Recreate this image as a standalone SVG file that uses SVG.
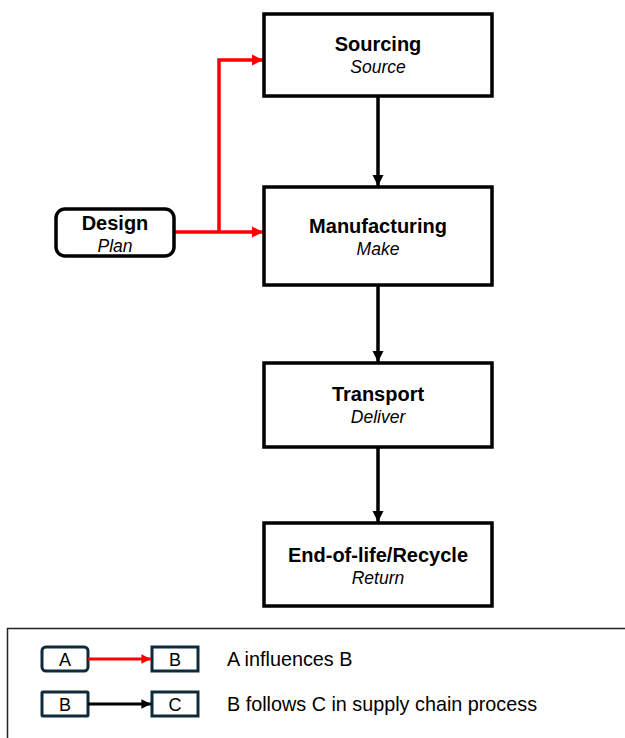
<svg xmlns="http://www.w3.org/2000/svg" width="625" height="738" viewBox="0 0 625 738">
<style>
.box{fill:#fff;stroke:#000;stroke-width:3.5}
.lg{fill:#fff;stroke:#0f2a3a;stroke-width:3}
.t{font-family:"Liberation Sans",Arial,sans-serif;font-weight:bold;font-size:20px;text-anchor:middle;fill:#000}
.s{font-family:"Liberation Sans",Arial,sans-serif;font-style:italic;font-size:17.5px;text-anchor:middle;fill:#000}
.l{font-family:"Liberation Sans",Arial,sans-serif;font-size:19.8px;fill:#000}
.lc{font-family:"Liberation Sans",Arial,sans-serif;font-size:18px;text-anchor:middle;fill:#000}
.blk{fill:none;stroke:#000;stroke-width:3.5}
.red{fill:none;stroke:#ff0000;stroke-width:3.5}
</style>
<defs>
<marker id="ab" viewBox="0 0 10 10" refX="10" refY="5" markerWidth="3.2" markerHeight="3.2" orient="auto" markerUnits="strokeWidth"><path d="M0,0 L10,5 L0,10 Z" fill="#000"/></marker>
<marker id="ar" viewBox="0 0 10 10" refX="10" refY="5" markerWidth="3.2" markerHeight="3.2" orient="auto" markerUnits="strokeWidth"><path d="M0,0 L10,5 L0,10 Z" fill="#ff0000"/></marker>
</defs>
<g id="connectors">
<path class="blk" d="M378,96 L378,186" marker-end="url(#ab)"/>
<path class="blk" d="M378,285 L378,362" marker-end="url(#ab)"/>
<path class="blk" d="M378,447 L378,522" marker-end="url(#ab)"/>
<path class="red" d="M174,232 L263,232" marker-end="url(#ar)"/>
<path class="red" d="M219,232 L219,60 L263,60" marker-end="url(#ar)"/>
</g>
<g id="sourcing"><rect class="box" x="264" y="14" width="228" height="82"/><text class="t" x="378" y="51">Sourcing</text><text class="s" x="378" y="73">Source</text></g>
<g id="manufacturing"><rect class="box" x="264" y="187" width="228" height="98"/><text class="t" x="378" y="233">Manufacturing</text><text class="s" x="378" y="255">Make</text></g>
<g id="design"><rect class="box" x="56" y="209" width="118" height="47" rx="9"/><text class="t" x="115" y="230">Design</text><text class="s" x="115" y="252">Plan</text></g>
<g id="transport"><rect class="box" x="264" y="363" width="228" height="84"/><text class="t" x="378" y="401">Transport</text><text class="s" x="378" y="423">Deliver</text></g>
<g id="endoflife"><rect class="box" x="264" y="523" width="228" height="83"/><text class="t" x="378" y="562">End-of-life/Recycle</text><text class="s" x="378" y="584">Return</text></g>
<g id="legend">
<rect x="7.5" y="628.5" width="640" height="130" fill="#fff" stroke="#222" stroke-width="1.5"/>
<rect class="lg" x="42" y="647" width="46" height="24" rx="4"/><text class="lc" x="65" y="666">A</text>
<rect class="lg" x="152" y="647" width="46" height="24"/><text class="lc" x="175" y="666">B</text>
<path d="M88,659 L151,659" stroke="#ff0000" stroke-width="3" fill="none" marker-end="url(#ar)"/>
<text class="l" x="227" y="666">A influences B</text>
<rect class="lg" x="42" y="692" width="46" height="24" rx="1"/><text class="lc" x="65" y="711">B</text>
<rect class="lg" x="152" y="692" width="46" height="24"/><text class="lc" x="175" y="711">C</text>
<path d="M88,704 L151,704" stroke="#000" stroke-width="3" fill="none" marker-end="url(#ab)"/>
<text class="l" x="227" y="711">B follows C in supply chain process</text>
</g>
</svg>
